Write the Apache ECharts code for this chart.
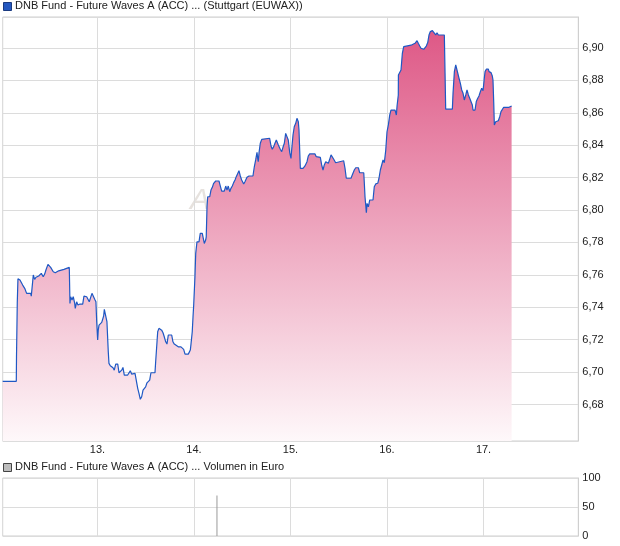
<!DOCTYPE html>
<html><head><meta charset="utf-8">
<script src="https://cdn.jsdelivr.net/npm/echarts@6/dist/echarts.min.js"></script>
<style>html,body{margin:0;padding:0;background:#fff}#c{width:620px;height:546px}</style>
</head><body><div id="c"></div>
<script>
// ---- data (x = trading day as fractional day of month, y = price in EUR) ----
const titlePrice = 'DNB Fund - Future Waves A (ACC) ... (Stuttgart (EUWAX))';
const titleVolume = 'DNB Fund - Future Waves A (ACC) ... Volumen in Euro';
const dayTicks = [13, 14, 15, 16, 17];
const day12 = [[12.018,6.6943],[12.159,6.6943],[12.161,6.7094],[12.169,6.7426],[12.176,6.7576],[12.197,6.7568],[12.210,6.7557],[12.225,6.7537],[12.238,6.7537],[12.246,6.7517],[12.259,6.7517],[12.266,6.7486],[12.308,6.7486],[12.314,6.7469],[12.321,6.7469],[12.335,6.7599],[12.349,6.7572],[12.363,6.7585],[12.376,6.7578],[12.391,6.7593],[12.404,6.7599],[12.418,6.7609],[12.432,6.7605],[12.438,6.7588],[12.453,6.7605],[12.466,6.7630],[12.474,6.7640],[12.487,6.7665],[12.501,6.7657],[12.515,6.7646],[12.528,6.7636],[12.542,6.7619],[12.563,6.7613],[12.583,6.7613],[12.598,6.7625],[12.611,6.7634],[12.653,6.7634],[12.666,6.7646],[12.708,6.7646],[12.715,6.7424],[12.722,6.7465],[12.736,6.7445],[12.749,6.7465],[12.764,6.7424],[12.770,6.7393],[12.784,6.7434],[12.798,6.7414],[12.805,6.7424],[12.819,6.7420],[12.847,6.7420],[12.860,6.7469],[12.874,6.7465],[12.888,6.7465],[12.902,6.7455],[12.915,6.7434],[12.930,6.7445],[12.943,6.7486],[12.956,6.7475],[12.971,6.7449],[12.984,6.7434],[12.992,6.7311]];
const day13 = [[13.002,6.7198],[13.008,6.7259],[13.016,6.7290],[13.023,6.7302],[13.044,6.7307],[13.057,6.7311],[13.064,6.7346],[13.071,6.7387],[13.091,6.7387],[13.098,6.7311],[13.112,6.7125],[13.119,6.7054],[13.133,6.7039],[13.147,6.7033],[13.161,6.7027],[13.174,6.7012],[13.189,6.7049],[13.210,6.7049],[13.223,6.6996],[13.251,6.7012],[13.264,6.7029],[13.278,6.6982],[13.313,6.6982],[13.326,6.6992],[13.340,6.7008],[13.354,6.6988],[13.368,6.6996],[13.389,6.6992],[13.402,6.6982],[13.417,6.6900],[13.430,6.6869],[13.444,6.6832],[13.458,6.6848],[13.472,6.6889],[13.485,6.6879],[13.499,6.6909],[13.513,6.6934],[13.526,6.6946],[13.541,6.6951],[13.554,6.6996],[13.596,6.6996],[13.603,6.7064],[13.617,6.7187],[13.624,6.7249],[13.637,6.7270],[13.651,6.7276],[13.665,6.7259],[13.679,6.7243],[13.692,6.7218],[13.707,6.7187],[13.720,6.7173],[13.734,6.7229],[13.769,6.7229],[13.782,6.7187],[13.796,6.7173],[13.810,6.7161],[13.837,6.7156],[13.865,6.7156],[13.879,6.7165],[13.893,6.7140],[13.907,6.7111],[13.941,6.7111],[13.962,6.7136],[13.969,6.7173],[13.982,6.7249],[13.990,6.7342],[13.997,6.7414]];
const day14 = [[14.010,6.7588],[14.018,6.7733],[14.031,6.7804],[14.052,6.7804],[14.065,6.7856],[14.086,6.7856],[14.100,6.7815],[14.107,6.7794],[14.121,6.7815],[14.127,6.7835],[14.135,6.8020],[14.142,6.8082],[14.163,6.8082],[14.176,6.8123],[14.190,6.8140],[14.204,6.8165],[14.225,6.8179],[14.259,6.8179],[14.273,6.8148],[14.287,6.8117],[14.314,6.8117],[14.329,6.8148],[14.342,6.8123],[14.355,6.8148],[14.370,6.8113],[14.383,6.8134],[14.397,6.8148],[14.411,6.8169],[14.425,6.8185],[14.438,6.8206],[14.453,6.8216],[14.466,6.8243],[14.480,6.8210],[14.494,6.8185],[14.515,6.8161],[14.528,6.8175],[14.549,6.8202],[14.570,6.8210],[14.611,6.8210],[14.625,6.8267],[14.639,6.8309],[14.653,6.8356],[14.660,6.8319],[14.666,6.8298],[14.674,6.8354],[14.687,6.8412],[14.702,6.8436],[14.715,6.8443],[14.784,6.8443],[14.798,6.8395],[14.811,6.8375],[14.826,6.8391],[14.839,6.8412],[14.853,6.8432],[14.867,6.8432],[14.874,6.8401],[14.894,6.8375],[14.909,6.8360],[14.922,6.8387],[14.936,6.8412],[14.950,6.8473],[14.964,6.8480],[14.977,6.8432],[14.992,6.8354]];
const day15 = [[15.005,6.8319],[15.012,6.8370],[15.026,6.8463],[15.039,6.8514],[15.054,6.8535],[15.067,6.8566],[15.081,6.8545],[15.088,6.8494],[15.102,6.8257],[15.130,6.8257],[15.150,6.8272],[15.171,6.8298],[15.184,6.8333],[15.199,6.8346],[15.254,6.8346],[15.267,6.8329],[15.309,6.8325],[15.323,6.8278],[15.337,6.8247],[15.350,6.8278],[15.365,6.8298],[15.378,6.8304],[15.392,6.8288],[15.406,6.8313],[15.420,6.8340],[15.433,6.8333],[15.448,6.8313],[15.468,6.8292],[15.475,6.8304],[15.551,6.8304],[15.565,6.8257],[15.578,6.8196],[15.627,6.8196],[15.640,6.8216],[15.661,6.8247],[15.676,6.8261],[15.703,6.8261],[15.717,6.8230],[15.759,6.8230],[15.765,6.8165],[15.772,6.8082],[15.786,6.7983],[15.793,6.8041],[15.807,6.8020],[15.821,6.8062],[15.855,6.8062],[15.868,6.8144],[15.883,6.8161],[15.904,6.8165],[15.917,6.8196],[15.931,6.8247],[15.945,6.8278],[15.959,6.8309],[15.972,6.8292],[15.987,6.8370]];
const day16 = [[16.000,6.8483],[16.014,6.8525],[16.028,6.8586],[16.041,6.8617],[16.083,6.8617],[16.097,6.8586],[16.104,6.8642],[16.117,6.8710],[16.118,6.8833],[16.138,6.8833],[16.145,6.8864],[16.159,6.8967],[16.173,6.9008],[16.187,6.9012],[16.249,6.9017],[16.269,6.9019],[16.290,6.9029],[16.311,6.9045],[16.324,6.9029],[16.339,6.9012],[16.352,6.8998],[16.380,6.8992],[16.394,6.8998],[16.407,6.9012],[16.422,6.9033],[16.435,6.9080],[16.449,6.9101],[16.470,6.9107],[16.490,6.9101],[16.505,6.9080],[16.518,6.9094],[16.532,6.9080],[16.594,6.9080],[16.601,6.8854],[16.608,6.8622],[16.677,6.8622],[16.684,6.8720],[16.698,6.8854],[16.712,6.8895],[16.718,6.8881],[16.733,6.8869],[16.746,6.8813],[16.760,6.8782],[16.774,6.8741],[16.788,6.8720],[16.801,6.8679],[16.816,6.8710],[16.829,6.8741],[16.843,6.8710],[16.857,6.8690],[16.870,6.8690],[16.884,6.8648],[16.891,6.8617],[16.912,6.8617],[16.925,6.8669],[16.940,6.8690],[16.953,6.8704],[16.967,6.8730],[16.981,6.8751],[16.995,6.8736]];
const day17 = [[17.008,6.8813],[17.016,6.8854],[17.029,6.8869],[17.050,6.8869],[17.057,6.8854],[17.078,6.8848],[17.091,6.8827],[17.098,6.8802],[17.106,6.8659],[17.112,6.8525],[17.126,6.8545],[17.153,6.8551],[17.168,6.8576],[17.181,6.8607],[17.194,6.8617],[17.209,6.8634],[17.223,6.8642],[17.236,6.8634],[17.251,6.8642],[17.264,6.8634],[17.277,6.8642],[17.291,6.8642]];
const volumeDays = [14.238];
const volumeValues = [70];

// ---- chart ----
const FONT = '"Liberation Sans", Arial, sans-serif';
const priceData = [].concat(day12, day13, day14, day15, day16, day17);
const volumeData = volumeDays.map((d, i) => [d, volumeValues[i]]);
const GRID_C = '#dcdcdc';
const splitColors = [GRID_C, 'rgba(0,0,0,0)'];
for (let i = 0; i < 20; i++) splitColors.push(GRID_C);

const chart = echarts.init(document.getElementById('c'), null, {renderer: 'canvas'});
chart.setOption({
  animation: false,
  backgroundColor: '#fff',
  textStyle: {fontFamily: FONT},
  graphic: [
    {type: 'rect', left: 3, top: 2, shape: {width: 8, height: 8}, style: {fill: '#2458c0', stroke: '#1a3a80', lineWidth: 1}},
    {type: 'text', left: 15, top: 0, style: {text: titlePrice, font: '11px ' + FONT, fill: '#222'}},
    {type: 'rect', left: 3, top: 463, shape: {width: 8, height: 8}, style: {fill: '#bdbdbd', stroke: '#444', lineWidth: 1}},
    {type: 'text', left: 15, top: 461, style: {text: titleVolume, font: '11px ' + FONT, fill: '#222'}},
    {type: 'text', z: -10, left: 190, top: 186, style: {text: 'A', font: 'italic 30px ' + FONT, fill: '#e6e2de'}}
  ],
  grid: [
    {left: 2.7, right: 41.7, top: 17, height: 424, show: true, borderColor: '#cfcfcf', borderWidth: 1},
    {left: 2.7, right: 41.7, top: 478, height: 58, show: true, borderColor: '#cfcfcf', borderWidth: 1}
  ],
  xAxis: [
    {type: 'value', gridIndex: 0, min: 12.018, max: 17.982, minInterval: 1, maxInterval: 1,
     axisLine: {show: false}, axisTick: {show: false},
     splitLine: {show: true, lineStyle: {color: GRID_C, width: 1}},
     axisLabel: {show: true, showMinLabel: false, showMaxLabel: false, margin: 3, fontSize: 11, color: '#222', fontFamily: FONT,
       formatter: v => (dayTicks.indexOf(Math.round(v)) >= 0 && Math.abs(v - Math.round(v)) < 1e-6) ? Math.round(v) + '.' : ''}},
    {type: 'value', gridIndex: 1, min: 12.018, max: 17.982, minInterval: 1, maxInterval: 1,
     axisLine: {show: false}, axisTick: {show: false}, axisLabel: {show: false},
     splitLine: {show: true, lineStyle: {color: GRID_C, width: 1}}}
  ],
  yAxis: [
    {type: 'value', gridIndex: 0, position: 'right', min: 6.6575, max: 6.9191, minInterval: 0.02, maxInterval: 0.02,
     axisLine: {show: true, lineStyle: {color: '#cfcfcf'}}, axisTick: {show: false},
     splitLine: {show: true, lineStyle: {color: splitColors, width: 1}},
     axisLabel: {show: true, showMinLabel: false, showMaxLabel: false, margin: 4, fontSize: 11, color: '#222', fontFamily: FONT,
       formatter: v => (v > 6.67 && v < 6.91) ? v.toFixed(2).replace('.', ',') : ''}},
    {type: 'value', gridIndex: 1, position: 'right', min: 0, max: 100, interval: 50,
     axisLine: {show: true, lineStyle: {color: '#cfcfcf'}}, axisTick: {show: false},
     splitLine: {show: true, lineStyle: {color: GRID_C, width: 1}},
     axisLabel: {show: true, margin: 4, fontSize: 11, color: '#222', fontFamily: FONT}}
  ],
  series: [
    {type: 'line', name: titlePrice, xAxisIndex: 0, yAxisIndex: 0, data: priceData, symbol: 'none', z: 2,
     lineStyle: {color: '#1f58c4', width: 1.2},
     areaStyle: {opacity: 1, color: new echarts.graphic.LinearGradient(0, 0, 0, 1, [
       {offset: 0, color: '#de5886'}, {offset: 1, color: '#fef8fa'}])}},
    {type: 'bar', name: titleVolume, xAxisIndex: 1, yAxisIndex: 1, data: volumeData, barWidth: 1,
     itemStyle: {color: '#9a9a9a'}}
  ]
});
</script></body></html>
